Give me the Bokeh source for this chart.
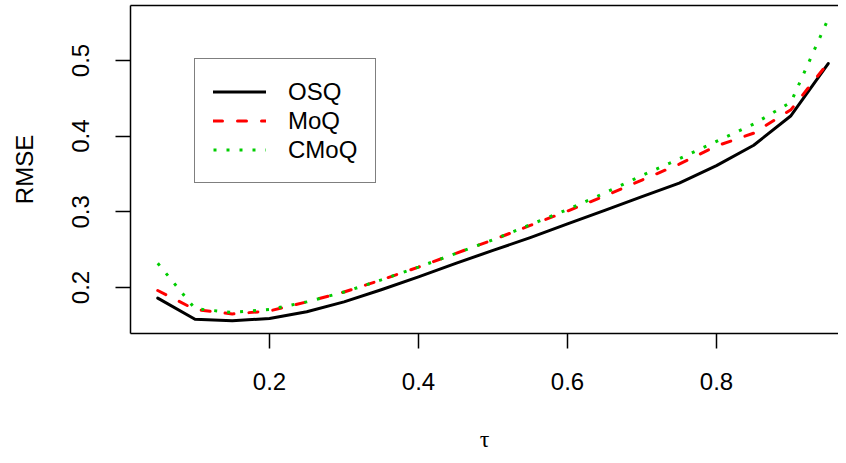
from bokeh.plotting import figure
from bokeh.models import Range1d, FixedTicker, LinearAxis, Legend, LegendItem
from bokeh.embed import file_html
from bokeh.resources import INLINE

tau = [0.05, 0.10, 0.15, 0.20, 0.25, 0.30, 0.35, 0.40, 0.45, 0.50,
       0.55, 0.60, 0.65, 0.70, 0.75, 0.80, 0.85, 0.90, 0.95]
osq = [0.186, 0.158, 0.156, 0.159, 0.168, 0.181, 0.197, 0.214, 0.232, 0.249,
       0.266, 0.284, 0.302, 0.320, 0.338, 0.361, 0.388, 0.427, 0.496]
moq = [0.196, 0.171, 0.165, 0.169, 0.181, 0.194, 0.210, 0.227, 0.245, 0.263,
       0.282, 0.301, 0.321, 0.342, 0.363, 0.387, 0.404, 0.435, 0.497]
cmoq = [0.232, 0.172, 0.167, 0.171, 0.181, 0.194, 0.210, 0.227, 0.245, 0.263,
        0.283, 0.303, 0.325, 0.348, 0.370, 0.393, 0.416, 0.445, 0.555]
x_ticks = [0.2, 0.4, 0.6, 0.8]
y_ticks = [0.2, 0.3, 0.4, 0.5]
series_names = ["OSQ", "MoQ", "CMoQ"]
x_label = "τ"
y_label = "RMSE"

FONT = "Liberation Sans"

p = figure(width=838, height=455, output_backend="svg", toolbar_location=None,
           x_range=Range1d(0.0134, 0.9638), y_range=Range1d(0.1392, 0.5727),
           min_border_left=130, min_border_bottom=122, min_border_top=5,
           min_border_right=0, x_axis_location=None, y_axis_location=None)
p.grid.visible = False
p.outline_line_color = None
p.background_fill_color = "white"
p.border_fill_color = "white"

xaxis = LinearAxis(ticker=FixedTicker(ticks=x_ticks), axis_label=x_label)
yaxis = LinearAxis(ticker=FixedTicker(ticks=y_ticks), axis_label=y_label)
for ax in (xaxis, yaxis):
    ax.axis_line_color = "black"
    ax.axis_line_width = 1.5
    ax.major_tick_line_color = "black"
    ax.major_tick_line_width = 1.5
    ax.major_tick_out = 15
    ax.major_tick_in = 0
    ax.minor_tick_out = 0
    ax.minor_tick_in = 0
    ax.major_label_text_font = FONT
    ax.major_label_text_font_size = "24px"
    ax.major_label_text_color = "black"
    ax.axis_label_text_font_size = "24px"
    ax.axis_label_text_font_style = "normal"
    ax.axis_label_text_color = "black"
xaxis.major_label_standoff = 24
xaxis.axis_label_text_font = "Liberation Serif"
xaxis.axis_label_standoff = 33
yaxis.major_label_orientation = "vertical"
yaxis.major_label_standoff = 26
yaxis.axis_label_text_font = FONT
yaxis.axis_label_standoff = 32
p.add_layout(xaxis, "below")
p.add_layout(yaxis, "left")

top = LinearAxis(ticker=FixedTicker(ticks=[]))
top.axis_line_color = "black"
top.axis_line_width = 1.5
top.major_tick_out = 0
top.major_tick_in = 0
top.minor_tick_out = 0
top.minor_tick_in = 0
top.major_label_text_font_size = "0px"
top.major_label_standoff = 0
p.add_layout(top, "above")

r1 = p.line(tau, osq, line_color="black", line_width=3, line_cap="round", line_join="round")
r2 = p.line(tau, moq, line_color="#FF0000", line_width=3, line_dash="9 15", line_cap="round")
r3 = p.line(tau, cmoq, line_color="#00CD00", line_width=3, line_dash="3 10")

legend = Legend(items=[LegendItem(label=series_names[0], renderers=[r1]),
                       LegendItem(label=series_names[1], renderers=[r2]),
                       LegendItem(label=series_names[2], renderers=[r3])],
                location=(64, 150))
legend.label_text_font = FONT
legend.label_text_font_size = "24px"
legend.label_text_color = "black"
legend.glyph_width = 53
legend.glyph_height = 29
legend.label_height = 29
legend.label_width = 62
legend.label_standoff = 22
legend.spacing = 0
legend.padding = 18
legend.margin = 0
legend.border_line_color = "black"
legend.border_line_width = 1.5
legend.background_fill_alpha = 1
p.add_layout(legend, "center")

open("out.html", "w").write(file_html(p, INLINE))
